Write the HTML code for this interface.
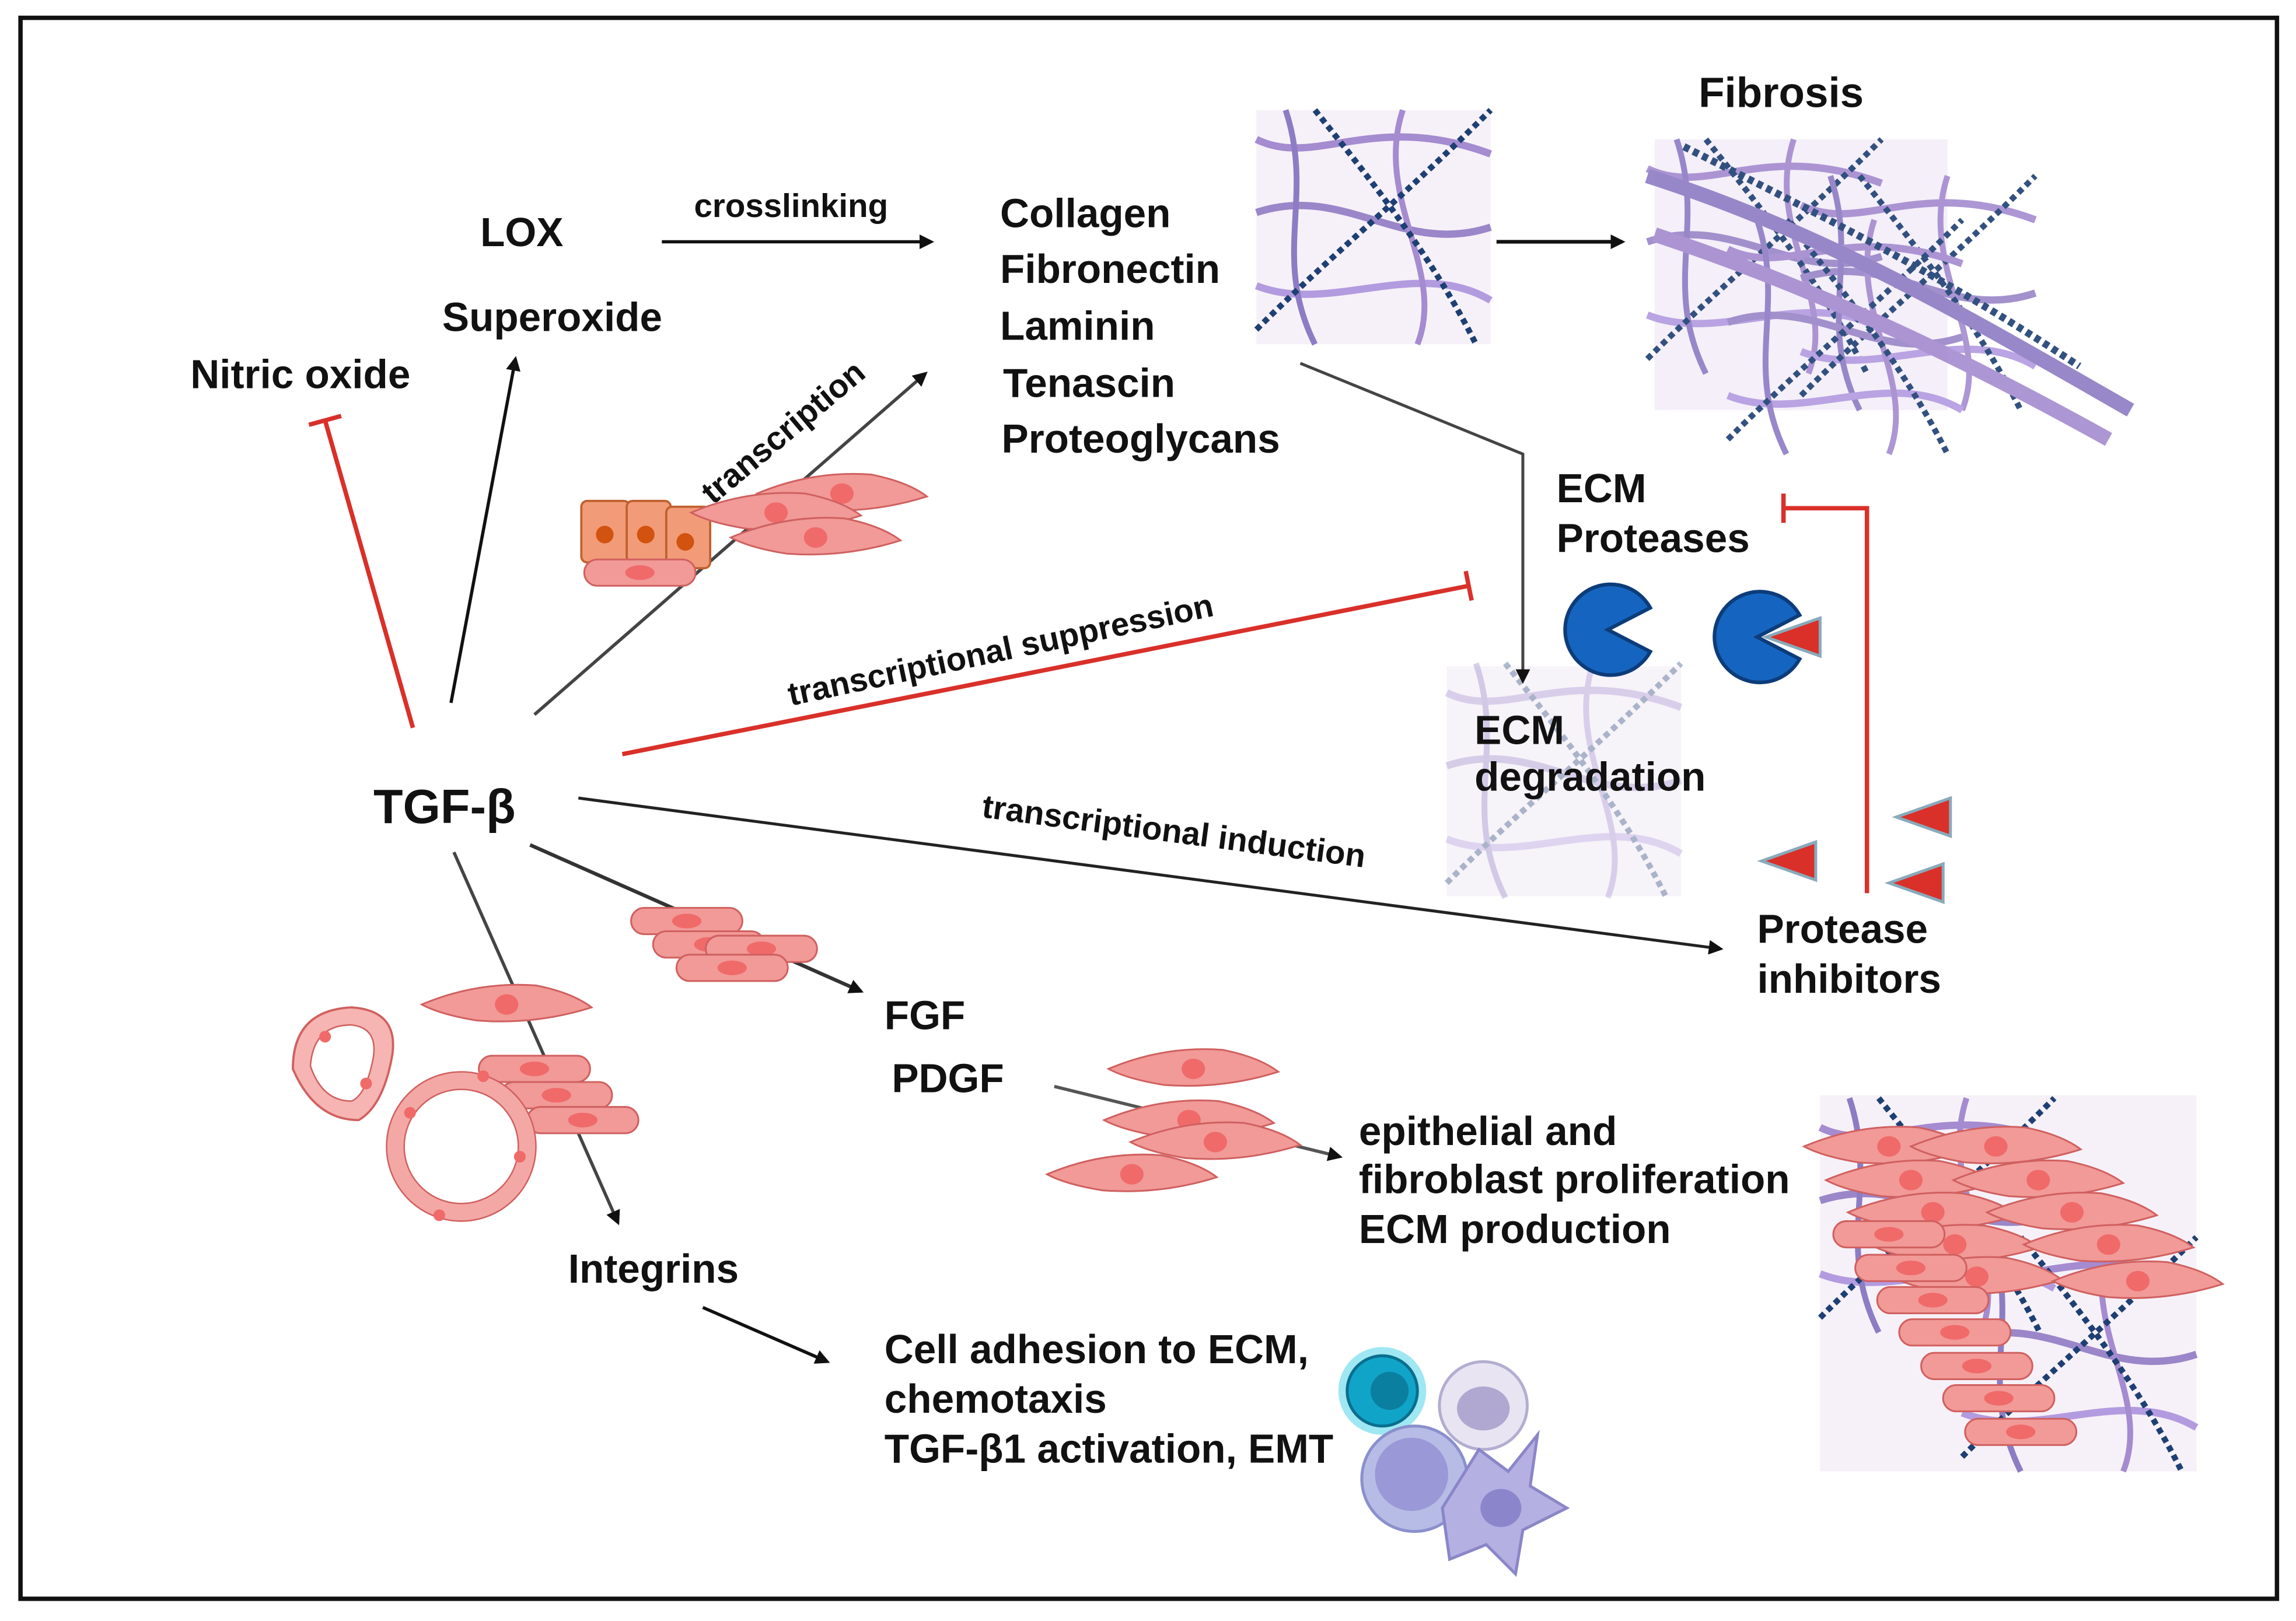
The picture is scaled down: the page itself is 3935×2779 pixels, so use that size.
<!DOCTYPE html>
<html><head><meta charset="utf-8"><style>
html,body{margin:0;padding:0;background:#fff}
svg{display:block}
text{font-family:"Liberation Sans",sans-serif;font-weight:bold;fill:#111}
</style></head><body>
<svg width="3935" height="2779" viewBox="0 0 1568 1107" xmlns="http://www.w3.org/2000/svg">
<defs>
<marker id="ah" markerWidth="10" markerHeight="10" refX="8" refY="5" orient="auto" markerUnits="userSpaceOnUse"><path d="M0,0 L10,5 L0,10 z" fill="#111"/></marker>
<g id="sp"><path d="M-58,0 Q-20,-16 20,-13 Q45,-8 58,2 Q20,14 -20,11 Q-45,7 -58,0z" fill="#f19a97" stroke="#d06060" stroke-width="1.2"/><ellipse cx="0" cy="0" rx="8" ry="7" fill="#f06a6a"/></g>
<g id="bl"><rect x="-38" y="-9" width="76" height="18" rx="9" fill="#f19a97" stroke="#d06060" stroke-width="1.2"/><ellipse cx="0" cy="0" rx="10" ry="5" fill="#f06a6a"/></g>
<g id="fib">
<path d="M0,20 C40,40 80,0 160,30" stroke="#a58bd0" stroke-width="5" fill="none"/>
<path d="M0,70 C60,50 100,100 160,80" stroke="#9a86c8" stroke-width="5" fill="none"/>
<path d="M0,120 C50,140 110,100 160,130" stroke="#b39be0" stroke-width="5" fill="none"/>
<path d="M20,0 C40,60 10,100 40,160" stroke="#8d7cc4" stroke-width="4" fill="none"/>
<path d="M100,0 C80,60 130,110 110,160" stroke="#a58bd0" stroke-width="4" fill="none"/>
<path d="M0,150 C50,100 100,60 160,0" stroke="#1e3f73" stroke-width="4" stroke-dasharray="4 3" fill="none"/>
<path d="M40,0 C80,50 120,100 150,160" stroke="#1e3f73" stroke-width="4" stroke-dasharray="4 3" fill="none"/>
</g>
</defs>
<rect x="14" y="12" width="1541" height="1080" fill="#fff" stroke="#111" stroke-width="3"/>

<rect x="858" y="75" width="160" height="160" fill="#f6f1f8"/>
<use href="#fib" x="858" y="75"/>
<rect x="1130" y="95" width="200" height="185" fill="#f4eff8"/>
<g opacity="0.9">
<use href="#fib" x="1125" y="95"/>
<use href="#fib" x="1230" y="120"/>
<use href="#fib" x="1180" y="150"/>
<path d="M1125,120 C1250,160 1350,220 1455,280" stroke="#8d7cc4" stroke-width="10" fill="none"/>
<path d="M1130,160 C1250,200 1350,250 1440,300" stroke="#a58bd0" stroke-width="10" fill="none"/>
<path d="M1150,100 C1250,150 1330,190 1420,250" stroke="#1e3f73" stroke-width="5" stroke-dasharray="4 3" fill="none"/>
</g>
<rect x="988" y="455" width="160" height="157" fill="#f6f3f9"/>
<use href="#fib" x="988" y="453" opacity="0.35"/>
<rect x="1243" y="748" width="257" height="257" fill="#f6f1f8"/>
<use href="#fib" x="1243" y="750"/>
<use href="#fib" x="1340" y="845"/>

<use href="#sp" x="1290" y="783"/><use href="#sp" x="1363" y="783"/>
<use href="#sp" x="1305" y="806"/><use href="#sp" x="1392" y="806"/>
<use href="#sp" x="1320" y="828"/><use href="#sp" x="1415" y="828"/>
<use href="#sp" x="1335" y="850"/><use href="#sp" x="1440" y="850"/>
<use href="#sp" x="1350" y="872"/><use href="#sp" x="1460" y="875"/>
<use href="#bl" x="1290" y="843"/><use href="#bl" x="1305" y="866"/><use href="#bl" x="1320" y="888"/>
<use href="#bl" x="1335" y="910"/><use href="#bl" x="1350" y="933"/><use href="#bl" x="1365" y="955"/>
<use href="#bl" x="1380" y="978"/>

<g font-size="27.6">
<text x="328" y="168">LOX</text>
<text x="302" y="226">Superoxide</text>
<text x="130" y="265">Nitric oxide</text>
<text x="683" y="155">Collagen</text>
<text x="683" y="193">Fibronectin</text>
<text x="683" y="232">Laminin</text>
<text x="685" y="271">Tenascin</text>
<text x="684" y="309">Proteoglycans</text>
<text x="1063" y="343">ECM</text>
<text x="1063" y="377">Proteases</text>
<text x="1007" y="508">ECM</text>
<text x="1007" y="540">degradation</text>
<text x="1200" y="644">Protease</text>
<text x="1200" y="678">inhibitors</text>
<text x="604" y="703">FGF</text>
<text x="609" y="746">PDGF</text>
<text x="928" y="782">epithelial and</text>
<text x="928" y="815">fibroblast proliferation</text>
<text x="928" y="849">ECM production</text>
<text x="388" y="876">Integrins</text>
<text x="604" y="931">Cell adhesion to ECM,</text>
<text x="604" y="965">chemotaxis</text>
<text x="604" y="999">TGF-β1 activation, EMT</text>
</g>
<text x="255" y="562" font-size="33">TGF-β</text>
<text x="474" y="148" font-size="22.5">crosslinking</text>
<text x="1160" y="73" font-size="29">Fibrosis</text>
<text font-size="22.5" transform="translate(540,482) rotate(-12)">transcriptional suppression</text>
<text font-size="22.5" transform="translate(670,558) rotate(7.5)">transcriptional induction</text>
<text font-size="22.5" transform="translate(487,345) rotate(-40)">transcription</text>

<line x1="452" y1="165" x2="636" y2="165" stroke="#111" stroke-width="2.2" marker-end="url(#ah)"/>
<line x1="1022" y1="165" x2="1108" y2="165" stroke="#111" stroke-width="2.5" marker-end="url(#ah)"/>
<line x1="308" y1="480" x2="352" y2="245" stroke="#111" stroke-width="2.2" marker-end="url(#ah)"/>
<line x1="365" y1="488" x2="632" y2="255" stroke="#444" stroke-width="2.2" marker-end="url(#ah)"/>
<line x1="395" y1="545" x2="1175" y2="648" stroke="#222" stroke-width="2" marker-end="url(#ah)"/>
<line x1="362" y1="577" x2="588" y2="677" stroke="#333" stroke-width="2.5" marker-end="url(#ah)"/>
<line x1="310" y1="582" x2="422" y2="835" stroke="#444" stroke-width="2.2" marker-end="url(#ah)"/>
<line x1="480" y1="893" x2="565" y2="930" stroke="#111" stroke-width="2.2" marker-end="url(#ah)"/>
<line x1="720" y1="742" x2="915" y2="790" stroke="#555" stroke-width="2.2" marker-end="url(#ah)"/>
<polyline points="888,248 1040,310 1040,465" fill="none" stroke="#444" stroke-width="2" marker-end="url(#ah)"/>
<line x1="282" y1="497" x2="222" y2="287" stroke="#d9302a" stroke-width="3"/>
<line x1="211" y1="290" x2="233" y2="284" stroke="#d9302a" stroke-width="3"/>
<line x1="425" y1="515" x2="1003" y2="400" stroke="#d9302a" stroke-width="3"/>
<line x1="1001" y1="390" x2="1005" y2="410" stroke="#d9302a" stroke-width="3"/>
<polyline points="1275,610 1275,347 1218,347" fill="none" stroke="#d9302a" stroke-width="3"/>
<line x1="1218" y1="337" x2="1218" y2="357" stroke="#d9302a" stroke-width="3"/>

<path d="M1098,430 L1127,415 A31,31 0 1,0 1127,445 z" fill="#1565c0" stroke="#0d3c7a" stroke-width="2.5"/>
<path d="M1200,435 L1229,420 A31,31 0 1,0 1229,450 z" fill="#1565c0" stroke="#0d3c7a" stroke-width="2.5"/>
<path d="M1206,435 L1243,422 L1243,448z" fill="#d9302a" stroke="#8ab" stroke-width="2"/>
<path d="M1203,588 L1240,575 L1240,601z" fill="#d9302a" stroke="#8ab" stroke-width="2"/>
<path d="M1295,558 L1332,545 L1332,571z" fill="#d9302a" stroke="#8ab" stroke-width="2"/>
<path d="M1290,603 L1327,590 L1327,616z" fill="#d9302a" stroke="#8ab" stroke-width="2"/>

<g fill="#f29b78" stroke="#c0602f" stroke-width="1.5">
<rect x="397" y="342" width="33" height="42" rx="4"/><rect x="428" y="342" width="30" height="42" rx="4"/><rect x="455" y="346" width="30" height="42" rx="4"/>
</g>
<circle cx="413" cy="365" r="6" fill="#d2520f"/><circle cx="441" cy="365" r="6" fill="#d2520f"/><circle cx="468" cy="370" r="6" fill="#d2520f"/>
<use href="#bl" x="437" y="391"/>
<use href="#sp" x="575" y="337"/><use href="#sp" x="530" y="350"/><use href="#sp" x="557" y="367"/>
<use href="#bl" x="469" y="629"/><use href="#bl" x="484" y="645"/><use href="#bl" x="520" y="648"/><use href="#bl" x="500" y="661"/>
<use href="#sp" x="346" y="686"/>
<use href="#bl" x="365" y="730"/><use href="#bl" x="380" y="748"/><use href="#bl" x="398" y="765"/>
<use href="#sp" x="815" y="730"/><use href="#sp" x="812" y="765"/><use href="#sp" x="830" y="780"/><use href="#sp" x="773" y="802"/>
<!-- vessels -->
<path d="M200,730 Q200,690 240,688 Q272,690 268,720 Q262,755 245,765 Q215,765 200,730z" fill="#f6b5b2" stroke="#d06060" stroke-width="1.5"/>
<path d="M212,728 Q214,700 240,700 Q258,702 255,722 Q250,748 240,752 Q220,752 212,728z" fill="#fff" stroke="#d06060" stroke-width="1"/>
<circle cx="222" cy="708" r="4" fill="#f06a6a"/><circle cx="250" cy="740" r="4" fill="#f06a6a"/>
<circle cx="315" cy="783" r="45" fill="none" stroke="#f4a8a5" stroke-width="12"/>
<circle cx="315" cy="783" r="51" fill="none" stroke="#d06060" stroke-width="1"/>
<circle cx="315" cy="783" r="39" fill="none" stroke="#d06060" stroke-width="1"/>
<circle cx="280" cy="760" r="4" fill="#f06a6a"/><circle cx="355" cy="790" r="4" fill="#f06a6a"/><circle cx="300" cy="830" r="4" fill="#f06a6a"/><circle cx="330" cy="735" r="4" fill="#f06a6a"/>

<circle cx="944" cy="950" r="30" fill="#3fd0e8" opacity="0.5"/>
<circle cx="944" cy="950" r="24" fill="#10a4c8" stroke="#0b6e8e" stroke-width="2"/>
<circle cx="949" cy="950" r="13" fill="#0b7fa0"/>
<circle cx="1013" cy="960" r="30" fill="#e8e4f2" stroke="#b3aed0" stroke-width="2"/>
<ellipse cx="1013" cy="962" rx="18" ry="15" fill="#b0a8d0"/>
<circle cx="966" cy="1010" r="36" fill="#b7bce6" stroke="#8a90cc" stroke-width="2"/>
<circle cx="964" cy="1007" r="25" fill="#9a98d6"/>
<path d="M985,1030 L1010,990 L1030,1005 L1050,980 L1045,1015 L1070,1030 L1040,1045 L1035,1075 L1015,1055 L990,1065 Z" fill="#b5b0e2" stroke="#8a86c8" stroke-width="2"/>
<ellipse cx="1025" cy="1030" rx="14" ry="13" fill="#8b86cc"/>
</svg>
</body></html>
